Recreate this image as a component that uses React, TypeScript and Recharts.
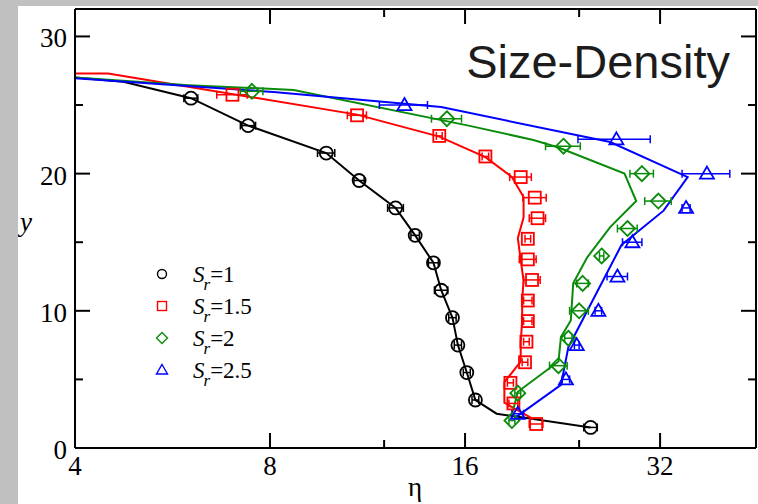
import React from "react";
import {
  ComposedChart,
  Line,
  Scatter,
  ErrorBar,
  XAxis,
  YAxis,
} from "recharts";

// eta ticks (log2 axis); minor ones carry no label
const etaTicks = [4, 8, 12, 16, 24, 32];
const etaMajor = [4, 8, 16, 32];
const yTicks = [0, 5, 10, 15, 20, 25, 30];
const yMajor = [0, 10, 20, 30];

// fitted curves
const curveSr1 = [
  { eta: 4, y: 27.0 }, { eta: 4.75, y: 26.7 }, { eta: 6.04, y: 25.5 },
  { eta: 7.4, y: 23.5 }, { eta: 9.77, y: 21.5 }, { eta: 10.98, y: 19.5 },
  { eta: 12.5, y: 17.5 }, { eta: 13.4, y: 15.5 }, { eta: 14.3, y: 13.5 },
  { eta: 14.7, y: 11.5 }, { eta: 15.3, y: 9.5 }, { eta: 15.6, y: 7.5 },
  { eta: 16.1, y: 5.5 }, { eta: 16.6, y: 3.5 }, { eta: 17.9, y: 2.5 },
  { eta: 25, y: 1.5 },
];
const curveSr15 = [
  { eta: 4, y: 27.3 }, { eta: 4.5, y: 27.3 }, { eta: 10.9, y: 24.3 },
  { eta: 14.6, y: 22.7 }, { eta: 17.2, y: 21.2 }, { eta: 18.9, y: 19.75 },
  { eta: 19.7, y: 18.3 }, { eta: 19.7, y: 16.8 }, { eta: 19.3, y: 15.3 },
  { eta: 19.5, y: 13.7 }, { eta: 19.7, y: 12.2 }, { eta: 19.6, y: 10.8 },
  { eta: 19.6, y: 9.25 }, { eta: 19.5, y: 7.7 }, { eta: 19.5, y: 6.3 },
  { eta: 18.4, y: 4.8 }, { eta: 18.4, y: 3.3 }, { eta: 20.4, y: 2.1 },
];
const curveSr2 = [
  { eta: 4, y: 27.0 }, { eta: 6.0, y: 26.45 }, { eta: 8.7, y: 26.1 },
  { eta: 16.2, y: 23.5 }, { eta: 20.4, y: 22.45 }, { eta: 22.3, y: 21.9 },
  { eta: 28.2, y: 20.0 }, { eta: 29.4, y: 18.0 }, { eta: 26.8, y: 16.1 },
  { eta: 24.7, y: 13.9 }, { eta: 23.5, y: 12.0 }, { eta: 23.3, y: 9.3 },
  { eta: 22.5, y: 8.1 }, { eta: 22.3, y: 6.3 }, { eta: 19.3, y: 4.1 },
  { eta: 18.9, y: 2.4 },
];
const curveSr25 = [
  { eta: 4, y: 26.95 }, { eta: 8.1, y: 25.95 }, { eta: 14.7, y: 24.85 },
  { eta: 26.8, y: 22.3 }, { eta: 35.3, y: 19.75 }, { eta: 32.4, y: 17.3 },
  { eta: 27.9, y: 14.8 }, { eta: 23.1, y: 7.35 }, { eta: 22.5, y: 4.6 },
  { eta: 19.1, y: 2.2 },
];

// measured points with x error
const pointsSr1 = [
  { eta: 6.04, y: 25.5, err: 0.15 }, { eta: 7.4, y: 23.5, err: 0.2 },
  { eta: 9.77, y: 21.5, err: 0.3 }, { eta: 10.98, y: 19.5, err: 0.2 },
  { eta: 12.5, y: 17.5, err: 0.35 }, { eta: 13.4, y: 15.5, err: 0.2 },
  { eta: 14.3, y: 13.5, err: 0.25 }, { eta: 14.7, y: 11.5, err: 0.35 },
  { eta: 15.3, y: 9.5, err: 0.2 }, { eta: 15.6, y: 7.5, err: 0.2 },
  { eta: 16.1, y: 5.5, err: 0.2 }, { eta: 16.6, y: 3.5, err: 0.2 },
  { eta: 25, y: 1.5, err: 0.6 },
];
const pointsSr15 = [
  { eta: 7.0, y: 25.75, err: 0.38 }, { eta: 10.9, y: 24.25, err: 0.37 },
  { eta: 14.6, y: 22.75, err: 0.15 }, { eta: 17.2, y: 21.25, err: 0.2 },
  { eta: 19.5, y: 19.75, err: 0.75 }, { eta: 20.5, y: 18.25, err: 0.85 },
  { eta: 20.7, y: 16.75, err: 0.6 }, { eta: 20.0, y: 15.25, err: 0.2 },
  { eta: 20.0, y: 13.75, err: 0.6 }, { eta: 20.3, y: 12.25, err: 0.6 },
  { eta: 20.0, y: 10.75, err: 0.3 }, { eta: 20.0, y: 9.25, err: 0.3 },
  { eta: 19.9, y: 7.75, err: 0.2 }, { eta: 19.8, y: 6.25, err: 0.2 },
  { eta: 18.8, y: 4.75, err: 0.2 }, { eta: 19.0, y: 3.25, err: 0.3 },
  { eta: 20.6, y: 1.75, err: 0.5 },
];
const pointsSr2 = [
  { eta: 7.5, y: 26, err: 0.3 }, { eta: 15.0, y: 24, err: 0.8 },
  { eta: 22.7, y: 22, err: 1.4 }, { eta: 30.0, y: 20, err: 1.25 },
  { eta: 31.8, y: 18, err: 1.5 }, { eta: 28.5, y: 16, err: 1.0 },
  { eta: 26.0, y: 14, err: 0.2 }, { eta: 24.3, y: 12, err: 0.5 },
  { eta: 24.0, y: 10, err: 0.8 }, { eta: 23.1, y: 8, err: 0.3 },
  { eta: 22.3, y: 6, err: 0.7 }, { eta: 19.3, y: 4, err: 0.2 },
  { eta: 18.9, y: 2, err: 0.2 },
];
const pointsSr25 = [
  { eta: 12.9, y: 25, err: 1.1 }, { eta: 27.4, y: 22.5, err: 3.5 },
  { eta: 37.8, y: 20, err: 3.2 }, { eta: 35.1, y: 17.5, err: 0.5 },
  { eta: 29.0, y: 15, err: 1.0 }, { eta: 27.5, y: 12.5, err: 1.0 },
  { eta: 25.7, y: 10, err: 0.3 }, { eta: 23.8, y: 7.5, err: 0.2 },
  { eta: 22.9, y: 5, err: 0.3 }, { eta: 19.3, y: 2.5, err: 0.4 },
];

const legendLabels = ["1", "1.5", "2", "2.5"];

const BLACK = "#000000";
const RED = "#ff0000";
const GREEN = "#0a8c0a";
const BLUE = "#0000ff";

const SERIF = '"Liberation Serif", "Times New Roman", serif';
const SANS = '"Liberation Sans", Arial, sans-serif';

type Kind = "circle" | "square" | "diamond" | "triangle";

const marker = (kind: Kind, cx: number, cy: number, s: number, color: string, sw: number) => {
  if (kind === "circle")
    return <circle cx={cx} cy={cy} r={s} fill="none" stroke={color} strokeWidth={sw} />;
  if (kind === "square")
    return <rect x={cx - s} y={cy - s} width={2 * s} height={2 * s} fill="none" stroke={color} strokeWidth={sw} />;
  if (kind === "diamond")
    return (
      <polygon
        points={`${cx},${cy - s} ${cx + s},${cy} ${cx},${cy + s} ${cx - s},${cy}`}
        fill="none" stroke={color} strokeWidth={sw}
      />
    );
  return (
    <polygon
      points={`${cx},${cy - s} ${cx + s},${cy + s * 0.72} ${cx - s},${cy + s * 0.72}`}
      fill="none" stroke={color} strokeWidth={sw}
    />
  );
};

const shapeOf = (kind: Kind, color: string, s: number) => (p: any) =>
  marker(kind, p.cx, p.cy, s, color, 1.8);

const tickLabel = { fontFamily: SERIF, fontSize: 27, fill: "#000" };

const BottomTick = (p: any) => {
  const major = etaMajor.includes(p.payload.value);
  return (
    <g>
      <line x1={p.x} y1={p.y} x2={p.x} y2={p.y - (major ? 15 : 8)} stroke="#000" strokeWidth={2} />
      {major && (
        <text x={p.x} y={p.y + 27} textAnchor="middle" {...tickLabel}>
          {p.payload.value}
        </text>
      )}
    </g>
  );
};

const TopTick = (p: any) => {
  const major = etaMajor.includes(p.payload.value);
  return <line x1={p.x} y1={p.y} x2={p.x} y2={p.y + (major ? 15 : 8)} stroke="#000" strokeWidth={2} />;
};

const LeftTick = (p: any) => {
  const major = yMajor.includes(p.payload.value);
  return (
    <g>
      <line x1={p.x} y1={p.y} x2={p.x + (major ? 15 : 8)} y2={p.y} stroke="#000" strokeWidth={2} />
      {major && (
        <text x={p.x - 8} y={p.y + 11} textAnchor="end" {...tickLabel}>
          {p.payload.value}
        </text>
      )}
    </g>
  );
};

const RightTick = (p: any) => {
  const major = yMajor.includes(p.payload.value);
  return <line x1={p.x} y1={p.y} x2={p.x - (major ? 15 : 8)} y2={p.y} stroke="#000" strokeWidth={2} />;
};

const axisLine = { stroke: "#000", strokeWidth: 2 };

const series = [
  { curve: curveSr1, points: pointsSr1, color: BLACK, kind: "circle" as Kind, size: 6.5 },
  { curve: curveSr15, points: pointsSr15, color: RED, kind: "square" as Kind, size: 6 },
  { curve: curveSr2, points: pointsSr2, color: GREEN, kind: "diamond" as Kind, size: 7.5 },
  { curve: curveSr25, points: pointsSr25, color: BLUE, kind: "triangle" as Kind, size: 7 },
];

export default function App() {
  return (
    <div style={{ position: "fixed", left: 0, top: 0, width: 758, height: 504, background: "#c0c0c0" }}>
      <div style={{ position: "absolute", left: 18, top: 6, width: 740, height: 498, background: "#fff" }}>
        <ComposedChart width={740} height={498} margin={{ top: 0, right: 0, bottom: 0, left: 0 }}>
          <XAxis
            xAxisId="b" dataKey="eta" type="number" scale="log" domain={[4, 45]}
            allowDataOverflow ticks={etaTicks} interval={0} height={56}
            tickSize={0} tickMargin={0} tickLine={false} axisLine={axisLine} tick={<BottomTick />}
          />
          <XAxis
            xAxisId="t" orientation="top" dataKey="eta" type="number" scale="log" domain={[4, 45]}
            allowDataOverflow ticks={etaTicks} interval={0} height={3}
            tickSize={0} tickMargin={0} tickLine={false} axisLine={axisLine} tick={<TopTick />}
          />
          <YAxis
            yAxisId="l" dataKey="y" type="number" domain={[0, 32]} allowDataOverflow
            ticks={yTicks} interval={0} width={57}
            tickSize={0} tickMargin={0} tickLine={false} axisLine={axisLine} tick={<LeftTick />}
          />
          <YAxis
            yAxisId="r" orientation="right" dataKey="y" type="number" domain={[0, 32]} allowDataOverflow
            ticks={yTicks} interval={0} width={2}
            tickSize={0} tickMargin={0} tickLine={false} axisLine={axisLine} tick={<RightTick />}
          />

          {series.map((s, i) => (
            <Line
              key={`curve-${i}`}
              xAxisId="b" yAxisId="l" data={s.curve} dataKey="y" type="linear"
              stroke={s.color} strokeWidth={2} dot={false} activeDot={false}
              isAnimationActive={false}
            />
          ))}
          {series.map((s, i) => (
            <Scatter
              key={`pts-${i}`}
              xAxisId="b" yAxisId="l" data={s.points} dataKey="y"
              shape={shapeOf(s.kind, s.color, s.size)}
              isAnimationActive={false}
            >
              <ErrorBar dataKey="err" direction="x" width={4} stroke={s.color} strokeWidth={1.5} />
            </Scatter>
          ))}
        </ComposedChart>

        <svg width={740} height={498} style={{ position: "absolute", left: 0, top: 0, pointerEvents: "none" }}>
          <text x={712} y={72} textAnchor="end" fontFamily={SANS} fontSize={47} fill="#1c1c1c">
            Size-Density
          </text>
          <text x={397} y={490} textAnchor="middle" fontFamily={SERIF} fontSize={27}>η</text>
          <text x={8} y={225} textAnchor="middle" fontFamily={SERIF} fontSize={27} fontStyle="italic">y</text>
          {series.map((s, i) => {
            const cy = 268 + i * 32;
            return (
              <g key={`leg-${i}`}>
                {marker(s.kind, 144, cy, s.kind === "diamond" ? 5.5 : s.kind === "triangle" ? 5.5 : 4.5, s.color, 1.4)}
                <text x={175} y={cy + 8} fontFamily={SERIF} fontSize={23} fill="#000">
                  <tspan fontStyle="italic">S</tspan>
                  <tspan fontStyle="italic" fontSize={17} dx={-1} dy={8}>r</tspan>
                  <tspan dy={-8}>={legendLabels[i]}</tspan>
                </text>
              </g>
            );
          })}
        </svg>
      </div>
    </div>
  );
}
